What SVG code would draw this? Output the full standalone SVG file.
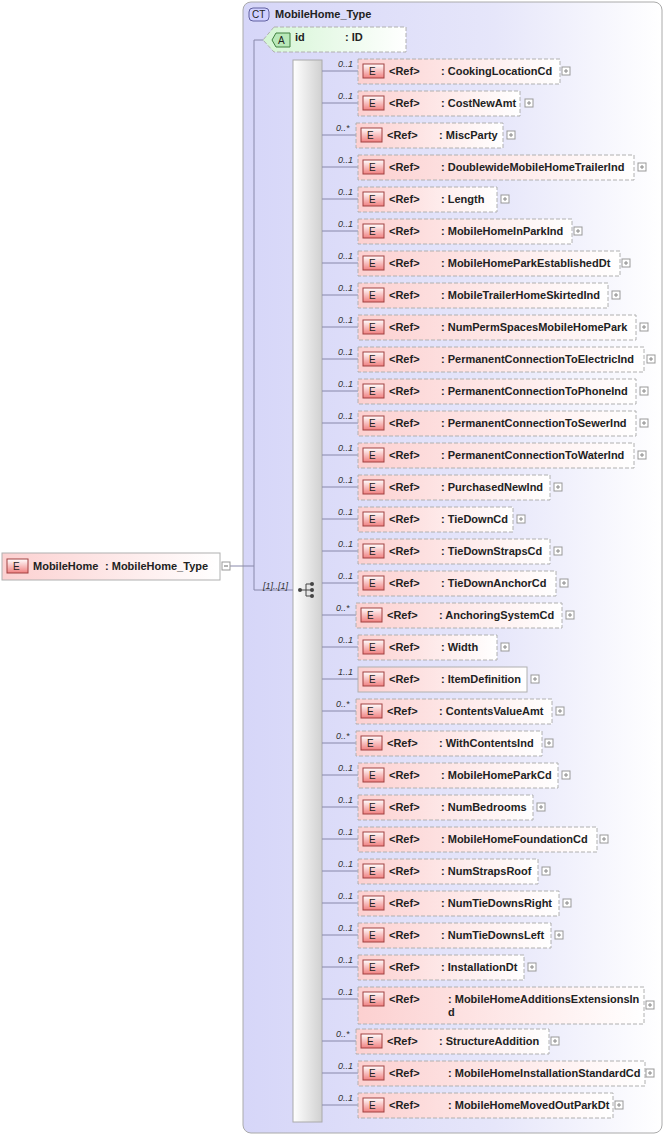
<svg xmlns="http://www.w3.org/2000/svg" width="665" height="1136" viewBox="0 0 665 1136">
<defs>
<linearGradient id="ct" x1="0" x2="1" y1="0" y2="0"><stop offset="0" stop-color="#d6d6f8"/><stop offset="0.6" stop-color="#e6e6fa"/><stop offset="1" stop-color="#ffffff"/></linearGradient>
<linearGradient id="el" x1="0" x2="1" y1="0" y2="0"><stop offset="0" stop-color="#fcd0d0"/><stop offset="1" stop-color="#ffffff"/></linearGradient>
<linearGradient id="at" x1="0" x2="1" y1="0" y2="0"><stop offset="0" stop-color="#d4f5d4"/><stop offset="1" stop-color="#ffffff"/></linearGradient>
<linearGradient id="ei" x1="0" x2="0" y1="0" y2="1"><stop offset="0" stop-color="#ffffff"/><stop offset="1" stop-color="#f08080"/></linearGradient>
<linearGradient id="sq" x1="0" x2="1" y1="0" y2="0"><stop offset="0" stop-color="#ffffff"/><stop offset="1" stop-color="#d0d0d0"/></linearGradient>
</defs>
<style>
text{font-family:"Liberation Sans",Arial,sans-serif;font-size:11px;font-weight:bold;fill:#222}
.m{font-size:9px;font-style:italic;font-weight:normal;fill:#333}
.eb{fill:url(#el);stroke:#b0b0b0;stroke-dasharray:4,2}
.s{stroke:#b0b0b0;stroke-dasharray:none}
.ic{fill:url(#ei);stroke:#a04040}
.pl{fill:#fff;stroke:#999}
.ln{stroke:#8888aa;fill:none}
.it{font-weight:normal;font-size:10px}
</style>
<g id="ct-box">
<rect x="243" y="2" width="419" height="1131" rx="8" fill="url(#ct)" stroke="#aaaaaa"/>
<rect x="249" y="8" width="20" height="13" rx="4" fill="#d0d0ff" stroke="#6060a0"/>
<text x="252" y="18" class="it">CT</text>
<text x="275" y="18">MobileHome_Type</text>
</g>
<g id="sequence"><rect x="293" y="60" width="29" height="1062" fill="url(#sq)" stroke="#aaaaaa"/></g>
<g id="connectors">
<path class="ln" d="M230 566H254M254 40V590M254 40H266M254 590H293"/>
<path d="M300 590H306M306 584V596M306 584H311M306 590H311M306 596H311" stroke="#444" fill="none"/>
<circle cx="300" cy="590" r="2" fill="#444"/><circle cx="312" cy="584" r="2" fill="#444"/><circle cx="312" cy="590" r="2" fill="#444"/><circle cx="312" cy="596" r="2" fill="#444"/>
<text x="263" y="589" class="m">[1]..[1]</text>
</g>
<g id="attr-id">
<path d="M274 27H406V52H274L263 40Z" fill="url(#at)" stroke="#b0b0b0" stroke-dasharray="4,2"/>
<path d="M276 33H290V47H276L272 40Z" fill="#b8e8b8" stroke="#408040"/>
<text x="278" y="44" class="it">A</text>
<text x="295" y="41">id</text><text x="345" y="41">: ID</text>
</g>
<g id="mobilehome">
<rect x="2" y="553" width="218" height="27" fill="url(#el)" stroke="#b0b0b0"/>
<rect x="7" y="559" width="21" height="14" class="ic"/><text x="13" y="570" class="it">E</text>
<text x="33" y="570">MobileHome</text><text x="105" y="570">: MobileHome_Type</text>
<rect x="222" y="562" width="8" height="8" class="pl"/><path d="M224 566H228" stroke="#666"/>
</g>
<g id="children">
<g id="c0"><path class="ln" d="M322 71H358"/><text x="338" y="67" class="m">0..1</text><rect x="358" y="59" width="202" height="25" class="eb"/><rect x="363" y="64" width="21" height="14" class="ic"/><text x="369" y="75" class="it">E</text><text x="389" y="75">&lt;Ref&gt;</text><text x="441" y="75">: CookingLocationCd</text><rect x="562" y="67" width="8" height="8" class="pl"/><path d="M564 71H568M566 69V73" stroke="#888"/></g>
<g id="c1"><path class="ln" d="M322 103H358"/><text x="338" y="99" class="m">0..1</text><rect x="358" y="91" width="162" height="25" class="eb"/><rect x="363" y="96" width="21" height="14" class="ic"/><text x="369" y="107" class="it">E</text><text x="389" y="107">&lt;Ref&gt;</text><text x="441" y="107">: CostNewAmt</text><rect x="525" y="99" width="8" height="8" class="pl"/><path d="M527 103H531M529 101V105" stroke="#888"/></g>
<g id="c2"><path class="ln" d="M322 135H356"/><text x="336" y="131" class="m">0..*</text><rect x="356" y="123" width="147" height="25" class="eb"/><rect x="361" y="128" width="21" height="14" class="ic"/><text x="367" y="139" class="it">E</text><text x="387" y="139">&lt;Ref&gt;</text><text x="439" y="139">: MiscParty</text><rect x="507" y="131" width="8" height="8" class="pl"/><path d="M509 135H513M511 133V137" stroke="#888"/></g>
<g id="c3"><path class="ln" d="M322 167H358"/><text x="338" y="163" class="m">0..1</text><rect x="358" y="155" width="276" height="25" class="eb"/><rect x="363" y="160" width="21" height="14" class="ic"/><text x="369" y="171" class="it">E</text><text x="389" y="171">&lt;Ref&gt;</text><text x="441" y="171">: DoublewideMobileHomeTrailerInd</text><rect x="638" y="163" width="8" height="8" class="pl"/><path d="M640 167H644M642 165V169" stroke="#888"/></g>
<g id="c4"><path class="ln" d="M322 199H358"/><text x="338" y="195" class="m">0..1</text><rect x="358" y="187" width="139" height="25" class="eb"/><rect x="363" y="192" width="21" height="14" class="ic"/><text x="369" y="203" class="it">E</text><text x="389" y="203">&lt;Ref&gt;</text><text x="441" y="203">: Length</text><rect x="501" y="195" width="8" height="8" class="pl"/><path d="M503 199H507M505 197V201" stroke="#888"/></g>
<g id="c5"><path class="ln" d="M322 231H358"/><text x="338" y="227" class="m">0..1</text><rect x="358" y="219" width="214" height="25" class="eb"/><rect x="363" y="224" width="21" height="14" class="ic"/><text x="369" y="235" class="it">E</text><text x="389" y="235">&lt;Ref&gt;</text><text x="441" y="235">: MobileHomeInParkInd</text><rect x="574" y="227" width="8" height="8" class="pl"/><path d="M576 231H580M578 229V233" stroke="#888"/></g>
<g id="c6"><path class="ln" d="M322 263H358"/><text x="338" y="259" class="m">0..1</text><rect x="358" y="251" width="262" height="25" class="eb"/><rect x="363" y="256" width="21" height="14" class="ic"/><text x="369" y="267" class="it">E</text><text x="389" y="267">&lt;Ref&gt;</text><text x="441" y="267">: MobileHomeParkEstablishedDt</text><rect x="622" y="259" width="8" height="8" class="pl"/><path d="M624 263H628M626 261V265" stroke="#888"/></g>
<g id="c7"><path class="ln" d="M322 295H358"/><text x="338" y="291" class="m">0..1</text><rect x="358" y="283" width="250" height="25" class="eb"/><rect x="363" y="288" width="21" height="14" class="ic"/><text x="369" y="299" class="it">E</text><text x="389" y="299">&lt;Ref&gt;</text><text x="441" y="299">: MobileTrailerHomeSkirtedInd</text><rect x="612" y="291" width="8" height="8" class="pl"/><path d="M614 295H618M616 293V297" stroke="#888"/></g>
<g id="c8"><path class="ln" d="M322 327H358"/><text x="338" y="323" class="m">0..1</text><rect x="358" y="315" width="278" height="25" class="eb"/><rect x="363" y="320" width="21" height="14" class="ic"/><text x="369" y="331" class="it">E</text><text x="389" y="331">&lt;Ref&gt;</text><text x="441" y="331">: NumPermSpacesMobileHomePark</text><rect x="640" y="323" width="8" height="8" class="pl"/><path d="M642 327H646M644 325V329" stroke="#888"/></g>
<g id="c9"><path class="ln" d="M322 359H358"/><text x="338" y="355" class="m">0..1</text><rect x="358" y="347" width="286" height="25" class="eb"/><rect x="363" y="352" width="21" height="14" class="ic"/><text x="369" y="363" class="it">E</text><text x="389" y="363">&lt;Ref&gt;</text><text x="441" y="363">: PermanentConnectionToElectricInd</text><rect x="647" y="355" width="8" height="8" class="pl"/><path d="M649 359H653M651 357V361" stroke="#888"/></g>
<g id="c10"><path class="ln" d="M322 391H358"/><text x="338" y="387" class="m">0..1</text><rect x="358" y="379" width="278" height="25" class="eb"/><rect x="363" y="384" width="21" height="14" class="ic"/><text x="369" y="395" class="it">E</text><text x="389" y="395">&lt;Ref&gt;</text><text x="441" y="395">: PermanentConnectionToPhoneInd</text><rect x="640" y="387" width="8" height="8" class="pl"/><path d="M642 391H646M644 389V393" stroke="#888"/></g>
<g id="c11"><path class="ln" d="M322 423H358"/><text x="338" y="419" class="m">0..1</text><rect x="358" y="411" width="278" height="25" class="eb"/><rect x="363" y="416" width="21" height="14" class="ic"/><text x="369" y="427" class="it">E</text><text x="389" y="427">&lt;Ref&gt;</text><text x="441" y="427">: PermanentConnectionToSewerInd</text><rect x="640" y="419" width="8" height="8" class="pl"/><path d="M642 423H646M644 421V425" stroke="#888"/></g>
<g id="c12"><path class="ln" d="M322 455H358"/><text x="338" y="451" class="m">0..1</text><rect x="358" y="443" width="276" height="25" class="eb"/><rect x="363" y="448" width="21" height="14" class="ic"/><text x="369" y="459" class="it">E</text><text x="389" y="459">&lt;Ref&gt;</text><text x="441" y="459">: PermanentConnectionToWaterInd</text><rect x="638" y="451" width="8" height="8" class="pl"/><path d="M640 455H644M642 453V457" stroke="#888"/></g>
<g id="c13"><path class="ln" d="M322 487H358"/><text x="338" y="483" class="m">0..1</text><rect x="358" y="475" width="192" height="25" class="eb"/><rect x="363" y="480" width="21" height="14" class="ic"/><text x="369" y="491" class="it">E</text><text x="389" y="491">&lt;Ref&gt;</text><text x="441" y="491">: PurchasedNewInd</text><rect x="554" y="483" width="8" height="8" class="pl"/><path d="M556 487H560M558 485V489" stroke="#888"/></g>
<g id="c14"><path class="ln" d="M322 519H358"/><text x="338" y="515" class="m">0..1</text><rect x="358" y="507" width="155" height="25" class="eb"/><rect x="363" y="512" width="21" height="14" class="ic"/><text x="369" y="523" class="it">E</text><text x="389" y="523">&lt;Ref&gt;</text><text x="441" y="523">: TieDownCd</text><rect x="517" y="515" width="8" height="8" class="pl"/><path d="M519 519H523M521 517V521" stroke="#888"/></g>
<g id="c15"><path class="ln" d="M322 551H358"/><text x="338" y="547" class="m">0..1</text><rect x="358" y="539" width="192" height="25" class="eb"/><rect x="363" y="544" width="21" height="14" class="ic"/><text x="369" y="555" class="it">E</text><text x="389" y="555">&lt;Ref&gt;</text><text x="441" y="555">: TieDownStrapsCd</text><rect x="554" y="547" width="8" height="8" class="pl"/><path d="M556 551H560M558 549V553" stroke="#888"/></g>
<g id="c16"><path class="ln" d="M322 583H358"/><text x="338" y="579" class="m">0..1</text><rect x="358" y="571" width="198" height="25" class="eb"/><rect x="363" y="576" width="21" height="14" class="ic"/><text x="369" y="587" class="it">E</text><text x="389" y="587">&lt;Ref&gt;</text><text x="441" y="587">: TieDownAnchorCd</text><rect x="560" y="579" width="8" height="8" class="pl"/><path d="M562 583H566M564 581V585" stroke="#888"/></g>
<g id="c17"><path class="ln" d="M322 615H356"/><text x="336" y="611" class="m">0..*</text><rect x="356" y="603" width="206" height="25" class="eb"/><rect x="361" y="608" width="21" height="14" class="ic"/><text x="367" y="619" class="it">E</text><text x="387" y="619">&lt;Ref&gt;</text><text x="439" y="619">: AnchoringSystemCd</text><rect x="566" y="611" width="8" height="8" class="pl"/><path d="M568 615H572M570 613V617" stroke="#888"/></g>
<g id="c18"><path class="ln" d="M322 647H358"/><text x="338" y="643" class="m">0..1</text><rect x="358" y="635" width="139" height="25" class="eb"/><rect x="363" y="640" width="21" height="14" class="ic"/><text x="369" y="651" class="it">E</text><text x="389" y="651">&lt;Ref&gt;</text><text x="441" y="651">: Width</text><rect x="501" y="643" width="8" height="8" class="pl"/><path d="M503 647H507M505 645V649" stroke="#888"/></g>
<g id="c19"><path class="ln" d="M322 679H358"/><text x="338" y="675" class="m">1..1</text><rect x="358" y="667" width="169" height="25" class="eb s"/><rect x="363" y="672" width="21" height="14" class="ic"/><text x="369" y="683" class="it">E</text><text x="389" y="683">&lt;Ref&gt;</text><text x="441" y="683">: ItemDefinition</text><rect x="531" y="675" width="8" height="8" class="pl"/><path d="M533 679H537M535 677V681" stroke="#888"/></g>
<g id="c20"><path class="ln" d="M322 711H356"/><text x="336" y="707" class="m">0..*</text><rect x="356" y="699" width="196" height="25" class="eb"/><rect x="361" y="704" width="21" height="14" class="ic"/><text x="367" y="715" class="it">E</text><text x="387" y="715">&lt;Ref&gt;</text><text x="439" y="715">: ContentsValueAmt</text><rect x="556" y="707" width="8" height="8" class="pl"/><path d="M558 711H562M560 709V713" stroke="#888"/></g>
<g id="c21"><path class="ln" d="M322 743H356"/><text x="336" y="739" class="m">0..*</text><rect x="356" y="731" width="186" height="25" class="eb"/><rect x="361" y="736" width="21" height="14" class="ic"/><text x="367" y="747" class="it">E</text><text x="387" y="747">&lt;Ref&gt;</text><text x="439" y="747">: WithContentsInd</text><rect x="545" y="739" width="8" height="8" class="pl"/><path d="M547 743H551M549 741V745" stroke="#888"/></g>
<g id="c22"><path class="ln" d="M322 775H358"/><text x="338" y="771" class="m">0..1</text><rect x="358" y="763" width="200" height="25" class="eb"/><rect x="363" y="768" width="21" height="14" class="ic"/><text x="369" y="779" class="it">E</text><text x="389" y="779">&lt;Ref&gt;</text><text x="441" y="779">: MobileHomeParkCd</text><rect x="562" y="771" width="8" height="8" class="pl"/><path d="M564 775H568M566 773V777" stroke="#888"/></g>
<g id="c23"><path class="ln" d="M322 807H358"/><text x="338" y="803" class="m">0..1</text><rect x="358" y="795" width="175" height="25" class="eb"/><rect x="363" y="800" width="21" height="14" class="ic"/><text x="369" y="811" class="it">E</text><text x="389" y="811">&lt;Ref&gt;</text><text x="441" y="811">: NumBedrooms</text><rect x="537" y="803" width="8" height="8" class="pl"/><path d="M539 807H543M541 805V809" stroke="#888"/></g>
<g id="c24"><path class="ln" d="M322 839H358"/><text x="338" y="835" class="m">0..1</text><rect x="358" y="827" width="239" height="25" class="eb"/><rect x="363" y="832" width="21" height="14" class="ic"/><text x="369" y="843" class="it">E</text><text x="389" y="843">&lt;Ref&gt;</text><text x="441" y="843">: MobileHomeFoundationCd</text><rect x="600" y="835" width="8" height="8" class="pl"/><path d="M602 839H606M604 837V841" stroke="#888"/></g>
<g id="c25"><path class="ln" d="M322 871H358"/><text x="338" y="867" class="m">0..1</text><rect x="358" y="859" width="180" height="25" class="eb"/><rect x="363" y="864" width="21" height="14" class="ic"/><text x="369" y="875" class="it">E</text><text x="389" y="875">&lt;Ref&gt;</text><text x="441" y="875">: NumStrapsRoof</text><rect x="542" y="867" width="8" height="8" class="pl"/><path d="M544 871H548M546 869V873" stroke="#888"/></g>
<g id="c26"><path class="ln" d="M322 903H358"/><text x="338" y="899" class="m">0..1</text><rect x="358" y="891" width="201" height="25" class="eb"/><rect x="363" y="896" width="21" height="14" class="ic"/><text x="369" y="907" class="it">E</text><text x="389" y="907">&lt;Ref&gt;</text><text x="441" y="907">: NumTieDownsRight</text><rect x="563" y="899" width="8" height="8" class="pl"/><path d="M565 903H569M567 901V905" stroke="#888"/></g>
<g id="c27"><path class="ln" d="M322 935H358"/><text x="338" y="931" class="m">0..1</text><rect x="358" y="923" width="193" height="25" class="eb"/><rect x="363" y="928" width="21" height="14" class="ic"/><text x="369" y="939" class="it">E</text><text x="389" y="939">&lt;Ref&gt;</text><text x="441" y="939">: NumTieDownsLeft</text><rect x="555" y="931" width="8" height="8" class="pl"/><path d="M557 935H561M559 933V937" stroke="#888"/></g>
<g id="c28"><path class="ln" d="M322 967H358"/><text x="338" y="963" class="m">0..1</text><rect x="358" y="955" width="166" height="25" class="eb"/><rect x="363" y="960" width="21" height="14" class="ic"/><text x="369" y="971" class="it">E</text><text x="389" y="971">&lt;Ref&gt;</text><text x="441" y="971">: InstallationDt</text><rect x="528" y="963" width="8" height="8" class="pl"/><path d="M530 967H534M532 965V969" stroke="#888"/></g>
<g id="c29"><path class="ln" d="M322 999H358"/><text x="338" y="995" class="m">0..1</text><rect x="358" y="987" width="286" height="37" class="eb"/><rect x="363" y="992" width="21" height="14" class="ic"/><text x="369" y="1003" class="it">E</text><text x="389" y="1003">&lt;Ref&gt;</text><text x="448" y="1003">: MobileHomeAdditionsExtensionsIn</text><text x="448" y="1016">d</text><rect x="646" y="1001" width="8" height="8" class="pl"/><path d="M648 1005H652M650 1003V1007" stroke="#888"/></g>
<g id="c30"><path class="ln" d="M322 1041H356"/><text x="336" y="1037" class="m">0..*</text><rect x="356" y="1029" width="193" height="25" class="eb"/><rect x="361" y="1034" width="21" height="14" class="ic"/><text x="367" y="1045" class="it">E</text><text x="387" y="1045">&lt;Ref&gt;</text><text x="439" y="1045">: StructureAddition</text><rect x="551" y="1037" width="8" height="8" class="pl"/><path d="M553 1041H557M555 1039V1043" stroke="#888"/></g>
<g id="c31"><path class="ln" d="M322 1073H358"/><text x="338" y="1069" class="m">0..1</text><rect x="358" y="1061" width="287" height="25" class="eb"/><rect x="363" y="1066" width="21" height="14" class="ic"/><text x="369" y="1077" class="it">E</text><text x="389" y="1077">&lt;Ref&gt;</text><text x="448" y="1077">: MobileHomeInstallationStandardCd</text><rect x="646" y="1069" width="8" height="8" class="pl"/><path d="M648 1073H652M650 1071V1075" stroke="#888"/></g>
<g id="c32"><path class="ln" d="M322 1105H358"/><text x="338" y="1101" class="m">0..1</text><rect x="358" y="1093" width="255" height="25" class="eb"/><rect x="363" y="1098" width="21" height="14" class="ic"/><text x="369" y="1109" class="it">E</text><text x="389" y="1109">&lt;Ref&gt;</text><text x="448" y="1109">: MobileHomeMovedOutParkDt</text><rect x="615" y="1101" width="8" height="8" class="pl"/><path d="M617 1105H621M619 1103V1107" stroke="#888"/></g>
</g>
</svg>
